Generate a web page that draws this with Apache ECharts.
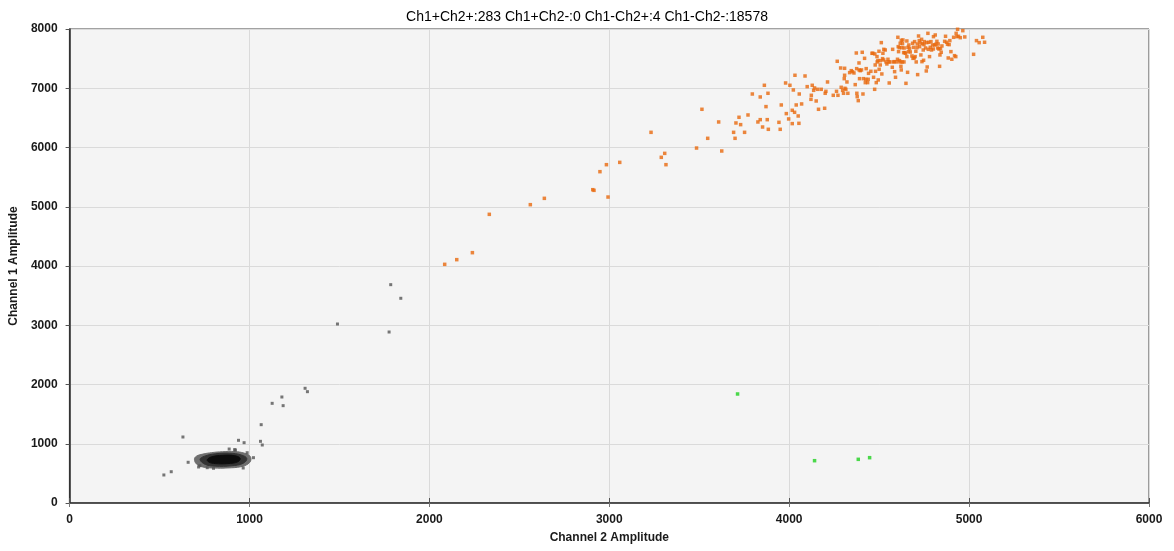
<!DOCTYPE html>
<html>
<head>
<meta charset="utf-8">
<script src="https://cdn.jsdelivr.net/npm/echarts@6/dist/echarts.min.js"></script>
<style>html,body{margin:0;padding:0;background:#fff;}#chart{width:1174px;height:551px;}</style>
</head>
<body>
<div id="chart"></div>
<script>
// ---- data (Channel 2 amplitude, Channel 1 amplitude) ----
var titleText = "Ch1+Ch2+:283 Ch1+Ch2-:0 Ch1-Ch2+:4 Ch1-Ch2-:18578";
var xTicks = [0, 1000, 2000, 3000, 4000, 5000, 6000];
var yTicks = [0, 1000, 2000, 3000, 4000, 5000, 6000, 7000, 8000];

// Ch1+Ch2+ (orange)
var doublePositive = [
[2085,4028],[2152,4107],[2239,4225],[2333,4872],[2561,5035],[2639,5142],[2908,5288],[2915,5277],
[2948,5592],[2984,5710],[2993,5164],[3058,5749],[3232,6256],[3289,5834],[3308,5901],[3315,5710],[3485,5991],
[3515,6645],[3547,6155],[3625,5941],[3608,6431],[3691,6256],[3699,6155],[3704,6414],[3721,6510],[3730,6386],
[3752,6256],[3771,6549],[3795,6903],[3826,6431],[3839,6853],[3839,6470],[3852,6346],[3862,7050],[3871,6690],
[3878,6470],[3882,6915],[3884,6307],[3943,6425],[3950,6307],[3956,6718],[3980,7089],[3984,6572],[3997,6482],
[4004,7050],[4017,6403],[4023,6971],[4017,6628],[4030,6594],[4032,7219],[4039,6718],[4050,6532],[4054,6408],
[4056,6903],[4069,6735],[4088,7207],[4100,7027],[4121,6813],[4123,6881],[4128,7050],[4136,6965],[4141,7005],
[4150,6785],[4158,6982],[4163,6645],[4178,6982],[4197,6662],[4200,6915],[4204,6948],[4213,7106],[4245,6881],
[4263,6948],[4267,7455],[4271,6881],[4286,7342],[4289,7016],[4297,6965],[4302,6915],[4306,7162],[4308,7337],
[4308,7219],[4310,6999],[4315,6982],[4321,7106],[4326,6915],[4336,7264],[4345,7297],[4352,7280],[4360,7258],
[4367,7061],[4373,7595],[4375,7331],[4376,6915],[4378,6858],[4384,6791],[4388,7427],[4389,7309],[4391,7162],
[4395,7297],[4402,7309],[4406,7607],[4410,6903],[4413,7162],[4419,7505],[4423,7095],[4426,7151],[4428,7331],
[4436,7095],[4439,7151],[4441,7252],[4454,7286],[4460,7590],[4465,7590],[4469,7185],[4475,6982],[4476,7579],
[4478,7393],[4480,7286],[4484,7095],[4488,7534],[4489,7444],[4493,7466],[4495,7140],[4499,7624],[4500,7320],
[4506,7393],[4506,7466],[4512,7770],[4515,7241],[4519,7500],[4521,7590],[4525,7477],[4526,7657],[4534,7646],
[4538,7444],[4543,7410],[4549,7489],[4554,7444],[4556,7089],[4560,7444],[4573,7354],[4575,7657],[4580,7444],
[4584,7449],[4586,7280],[4591,7185],[4599,7444],[4602,7489],[4604,7860],[4606,7702],[4608,7618],[4612,7685],
[4613,7466],[4617,7759],[4619,7444],[4621,7370],[4623,7809],[4623,7309],[4626,7685],[4628,7444],[4630,7753],
[4632,7815],[4636,7601],[4638,7444],[4639,7680],[4643,7601],[4647,7590],[4649,7083],[4654,7798],[4654,7534],
[4658,7269],[4660,7691],[4663,7618],[4665,7730],[4669,7669],[4673,7612],[4682,7545],[4686,7759],[4688,7505],
[4691,7691],[4695,7511],[4697,7787],[4700,7534],[4704,7624],[4706,7444],[4710,7685],[4712,7747],[4714,7230],
[4719,7882],[4723,7804],[4725,7702],[4728,7764],[4732,7562],[4736,7826],[4738,7449],[4741,7753],[4745,7646],
[4747,7472],[4749,7736],[4752,7787],[4758,7680],[4762,7292],[4765,7770],[4767,7359],[4771,7927],[4773,7657],
[4776,7776],[4780,7534],[4784,7691],[4788,7787],[4791,7646],[4797,7730],[4801,7663],[4802,7871],[4808,7730],
[4812,7899],[4815,7742],[4821,7792],[4825,7680],[4828,7747],[4832,7663],[4836,7370],[4838,7562],[4841,7669],
[4845,7607],[4849,7714],[4864,7792],[4869,7877],[4875,7776],[4880,7742],[4884,7511],[4889,7736],[4893,7804],
[4899,7618],[4904,7489],[4914,7860],[4919,7550],[4926,7534],[4928,7927],[4932,7871],[4936,7995],[4941,7877],
[4951,7854],[4965,7972],[4976,7866],[5025,7573],[5041,7804],[5056,7770],[5076,7860],[5086,7776]
];

// Ch1-Ch2+ (green)
var ch2Only = [[3713,1840],[4141,714],[4384,737],[4447,765]];

// Ch1-Ch2- (gray, scattered outliers around the negative cluster)
var doubleNegative = [
[1785,3685],[1841,3455],[1489,3021],[1776,2886],[1309,1936],[1322,1879],[1180,1789],[1126,1682],[1187,1643],
[1065,1322],[630,1114],[939,1058],[970,1018],[1061,1041],[1071,979],[887,911],[917,900],[922,895],[987,849],
[1022,765],[659,687],[717,608],[965,591],[565,528],[524,473],[765,596],[800,586],[724,630]
];
// Ch1-Ch2- dense cluster, outlined as density levels (outer, middle, core)
var clusterOuter = [[694,740],[705,790],[740,825],[790,850],[850,866],[920,868],[970,842],[1000,800],[1008,730],
  [992,660],[952,612],[880,592],[800,590],[740,608],[705,660]];
var clusterMid = [[725,735],[750,790],[810,830],[890,840],[955,810],[985,750],[965,670],[900,628],[810,622],[755,650]];
var clusterCore = [[765,730],[790,780],[850,805],[915,800],[948,755],[935,695],[880,665],[810,665],[775,690]];

var chart = echarts.init(document.getElementById('chart'), null, {renderer: 'canvas'});

function polygonSeries(points, color) {
  return {
    type: 'custom',
    coordinateSystem: 'cartesian2d',
    silent: true,
    z: 2,
    data: points,
    renderItem: function (params, api) {
      if (params.dataIndex !== 0) return null;
      var pts = points.map(function (p) { return api.coord(p); });
      return {
        type: 'polygon',
        shape: {points: pts, smooth: 0.4},
        style: {fill: color, stroke: color, lineWidth: 1}
      };
    }
  };
}

var labelFont = {fontFamily: 'Liberation Sans', fontSize: 12, fontWeight: 'bold', color: '#1a1a1a'};
var nameFont = {fontFamily: 'Liberation Sans', fontSize: 12, fontWeight: 'bold', color: '#1a1a1a'};

var option = {
  animation: false,
  backgroundColor: '#ffffff',
  title: {
    text: titleText,
    left: 'center',
    top: 5,
    textStyle: {fontFamily: 'Liberation Sans', fontSize: 14, fontWeight: 'normal', color: '#000'}
  },
  grid: {left: 69, right: 25, top: 29, bottom: 48, show: true, backgroundColor: '#f4f4f4', borderColor: '#444', borderWidth: 1},
  xAxis: [{
    type: 'value', min: 0, max: 6000, interval: 1000,
    name: 'Channel 2 Amplitude', nameLocation: 'middle', nameGap: 29,
    nameTextStyle: nameFont,
    axisLine: {show: true, onZero: false, lineStyle: {color: '#333', width: 1.5}},
    axisTick: {show: true, inside: true, length: 5, lineStyle: {color: '#555'}},
    axisLabel: Object.assign({margin: 11, formatter: function (v) { return xTicks.indexOf(v) >= 0 ? String(v) : ''; }}, labelFont),
    splitLine: {show: true, lineStyle: {color: '#dadada', width: 1}}
  }, {
    type: 'value', position: 'top', min: 0, max: 6000, interval: 1000,
    axisLine: {show: true, lineStyle: {color: '#555', width: 1}},
    axisTick: {show: true, inside: true, length: 4, lineStyle: {color: '#777'}},
    axisLabel: {show: false}, splitLine: {show: false}
  }],
  yAxis: [{
    type: 'value', min: 0, max: 8000, interval: 1000,
    name: 'Channel 1 Amplitude', nameLocation: 'middle', nameGap: 36, nameRotate: 90,
    nameTextStyle: nameFont,
    axisLine: {show: true, onZero: false, lineStyle: {color: '#333', width: 1.5}},
    axisTick: {show: false},
    axisLabel: Object.assign({margin: 12, formatter: function (v) { return yTicks.indexOf(v) >= 0 ? String(v) : ''; }}, labelFont),
    splitLine: {show: true, lineStyle: {color: '#dadada', width: 1}}
  }, {
    type: 'value', position: 'right', min: 0, max: 8000, interval: 1000,
    axisLine: {show: true, lineStyle: {color: '#333', width: 1.2}},
    axisTick: {show: true, inside: true, length: 4, lineStyle: {color: '#555'}},
    axisLabel: {show: false}, splitLine: {show: false}
  }],
  series: [
    polygonSeries(clusterOuter, '#6e6e6e'),
    polygonSeries(clusterMid, '#333333'),
    polygonSeries(clusterCore, '#0d0d0d'),
    {type: 'scatter', name: 'Ch1-Ch2-', data: doubleNegative, symbol: 'rect', symbolSize: 3, itemStyle: {color: '#555555'}, z: 3},
    {type: 'scatter', name: 'Ch1+Ch2+', data: doublePositive, symbol: 'rect', symbolSize: 3.5, itemStyle: {color: '#e8690e'}, z: 4},
    {type: 'scatter', name: 'Ch1-Ch2+', data: ch2Only, symbol: 'rect', symbolSize: 3.5, itemStyle: {color: '#1fd11f'}, z: 4}
  ]
};
chart.setOption(option);
</script>
</body>
</html>
